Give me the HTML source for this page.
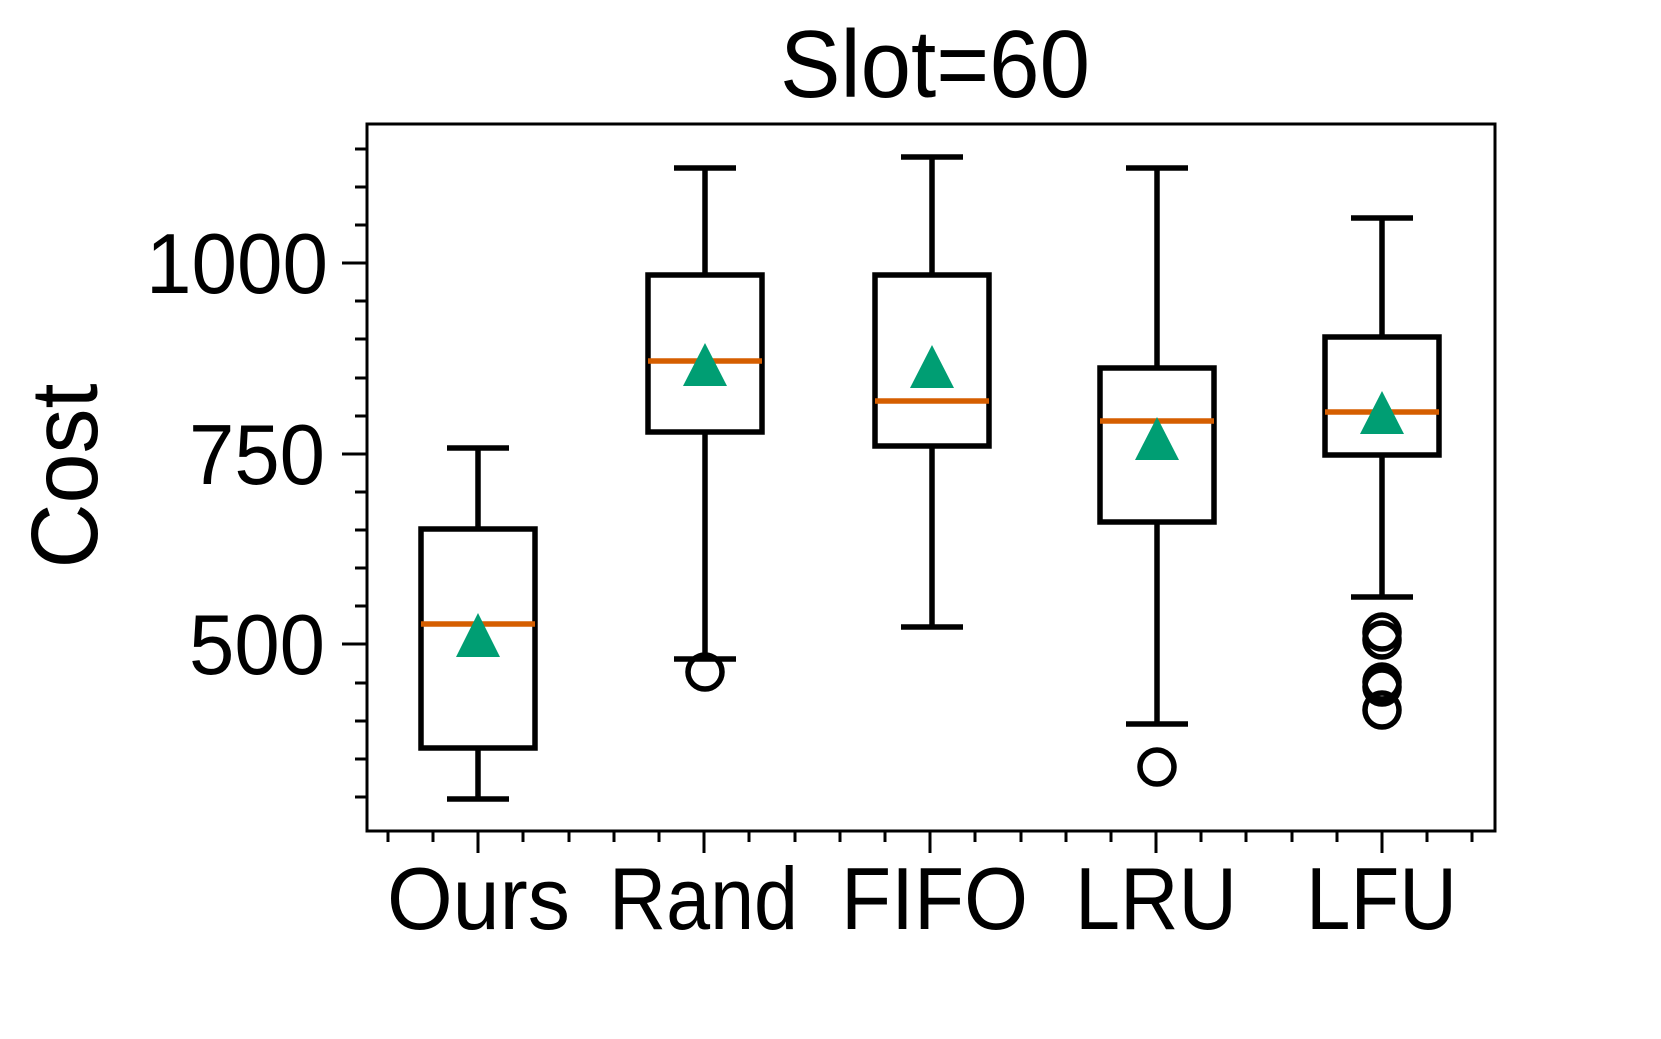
<!DOCTYPE html>
<html><head><meta charset="utf-8"><style>html,body{margin:0;padding:0;background:#fff}svg{display:block}</style></head>
<body>
<svg width="1661" height="1039" viewBox="0 0 1661 1039" xmlns="http://www.w3.org/2000/svg" font-family="Liberation Sans, sans-serif">
<rect width="1661" height="1039" fill="#fff"/>
<text x="780" y="97" font-size="96" textLength="310" lengthAdjust="spacingAndGlyphs">Slot=60</text>
<text transform="translate(97,476) rotate(-90)" x="0" y="0" font-size="95" text-anchor="middle" textLength="185" lengthAdjust="spacingAndGlyphs">Cost</text>
<g font-size="85">
<text x="146" y="293" textLength="182" lengthAdjust="spacingAndGlyphs">1000</text>
<text x="189" y="484" textLength="136" lengthAdjust="spacingAndGlyphs">750</text>
<text x="189" y="674" textLength="136" lengthAdjust="spacingAndGlyphs">500</text>
</g>
<g font-size="88">
<text x="387" y="929" textLength="183" lengthAdjust="spacingAndGlyphs">Ours</text>
<text x="609" y="929" textLength="189" lengthAdjust="spacingAndGlyphs">Rand</text>
<text x="841" y="929" textLength="187" lengthAdjust="spacingAndGlyphs">FIFO</text>
<text x="1075" y="929" textLength="162" lengthAdjust="spacingAndGlyphs">LRU</text>
<text x="1306" y="929" textLength="151" lengthAdjust="spacingAndGlyphs">LFU</text>
</g>
<rect x="367" y="124" width="1128" height="707" fill="none" stroke="#000" stroke-width="3"/>
<g stroke="#000" stroke-width="3">
<line x1="342" y1="263" x2="367" y2="263"/><line x1="342" y1="454" x2="367" y2="454"/><line x1="342" y1="644" x2="367" y2="644"/>
<line x1="355" y1="149" x2="367" y2="149"/><line x1="355" y1="187" x2="367" y2="187"/><line x1="355" y1="225" x2="367" y2="225"/>
<line x1="355" y1="301" x2="367" y2="301"/><line x1="355" y1="339" x2="367" y2="339"/><line x1="355" y1="378" x2="367" y2="378"/><line x1="355" y1="416" x2="367" y2="416"/>
<line x1="355" y1="492" x2="367" y2="492"/><line x1="355" y1="530" x2="367" y2="530"/><line x1="355" y1="568" x2="367" y2="568"/><line x1="355" y1="606" x2="367" y2="606"/>
<line x1="355" y1="683" x2="367" y2="683"/><line x1="355" y1="721" x2="367" y2="721"/><line x1="355" y1="759" x2="367" y2="759"/><line x1="355" y1="797" x2="367" y2="797"/>
<path d="M388 831v11M433 831v11M478 831v22M523 831v11M569 831v11M614 831v11M659 831v11M704 831v22M749 831v11M795 831v11M840 831v11M885 831v11M930 831v22M975 831v11M1021 831v11M1066 831v11M1111 831v11M1156 831v22M1201 831v11M1246 831v11M1292 831v11M1337 831v11M1382 831v22M1427 831v11M1472 831v11"/>
</g>
<g stroke="#000" stroke-width="5.5" fill="none">
<path d="M478 448V529M478 748V799M447 448h62M447 799h62"/><rect x="421" y="529" width="114" height="219"/>
<path d="M705 168V275M705 432V659M674 168h62M674 659h62"/><rect x="648" y="275" width="114" height="157"/>
<circle cx="705" cy="672" r="17" stroke-width="5.5"/>
<path d="M932 157V275M932 446V627M901 157h62M901 627h62"/><rect x="875" y="275" width="114" height="171"/>
<path d="M1157 168V368M1157 522V724M1126 168h62M1126 724h62"/><rect x="1100" y="368" width="114" height="154"/>
<circle cx="1157" cy="767" r="17" stroke-width="5.5"/>
<path d="M1382 218V337M1382 455V597M1351 218h62M1351 597h62"/><rect x="1325" y="337" width="114" height="118"/>
<g stroke-width="5.5"><circle cx="1382" cy="632" r="17"/><circle cx="1382" cy="640" r="17"/><circle cx="1382" cy="682" r="17"/><circle cx="1382" cy="687" r="17"/><circle cx="1382" cy="710" r="17"/></g>
</g>
<g stroke="#D55E00" stroke-width="5.5">
<line x1="421" y1="624" x2="535" y2="624"/>
<line x1="648" y1="361" x2="762" y2="361"/>
<line x1="875" y1="401" x2="989" y2="401"/>
<line x1="1100" y1="421" x2="1214" y2="421"/>
<line x1="1325" y1="412" x2="1439" y2="412"/>
</g>
<g fill="#009E73">
<polygon points="478,613 500,657 456,657"/>
<polygon points="705,343 727,386 683,386"/>
<polygon points="932,345 954,388 910,388"/>
<polygon points="1157,417 1179,460 1135,460"/>
<polygon points="1382,391 1404,434 1360,434"/>
</g>
</svg>
</body></html>
